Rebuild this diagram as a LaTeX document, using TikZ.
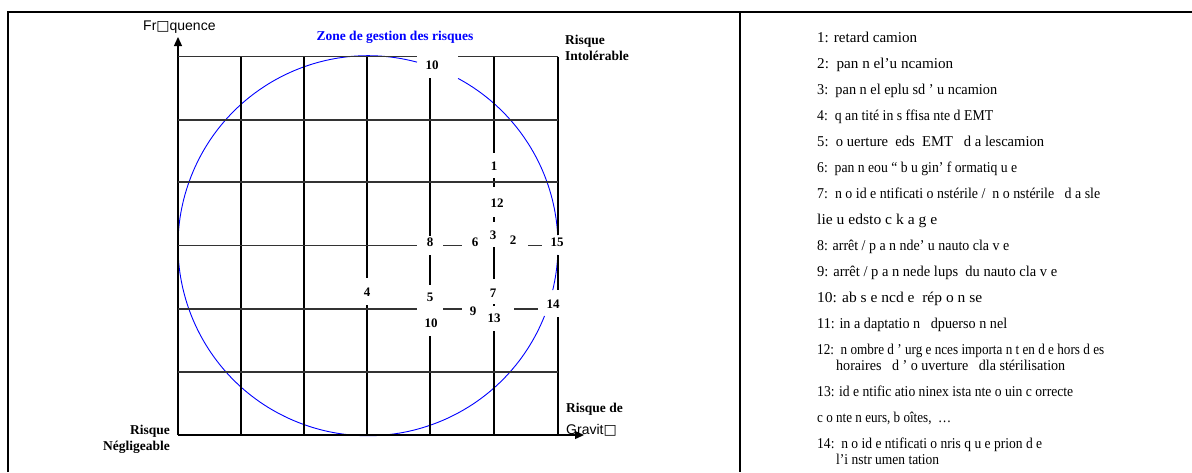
\documentclass[tikz,border=0pt]{standalone}
\usepackage{fontspec}
\usepackage{graphicx}
\setmainfont{Liberation Serif}
\newfontfamily\arialf{Liberation Sans}
\newfontfamily\djv{DejaVu Sans}
\usetikzlibrary{arrows.meta}
\newcommand\lw[2]{\resizebox{#1pt}{\height}{#2}}
\begin{document}
\begin{tikzpicture}[x=1pt,y=-1pt,
  frame/.style={line width=1.8pt},
  colline/.style={line width=1.3pt, black},
  rowline/.style={line width=1.3pt, black!80},
  zoneline/.style={blue, line width=0.9pt},
  axisline/.style={line width=1.3pt, -{Triangle[length=9pt,width=8pt]}},
  num/.style={font=\fontsize{13}{15}\selectfont\bfseries, inner sep=0pt},
  lbl/.style={font=\fontsize{13.5}{16}\selectfont\bfseries, inner sep=0pt},
  sanslbl/.style={font=\fontsize{14}{16}\selectfont\arialf, inner sep=0pt},
  item/.style={anchor=base west, inner sep=0pt, font=\fontsize{15}{18}\selectfont}]
\useasboundingbox (0,0) rectangle (1192,472);
% frame
\draw[frame] (8,472) -- (8,12) -- (1192,12);
\draw[frame] (740,12) -- (740,472);
% blue circle (with gaps at labels)
\draw[zoneline] (368,245.7) ++(-61.7:190) arc[start angle=-61.7, end angle=-3.2, radius=190];
\draw[zoneline] (368,245.7) ++(2.8:190) arc[start angle=2.8, end angle=13.5, radius=190];
\draw[zoneline] (368,245.7) ++(21.7:190) arc[start angle=21.7, end angle=284.94, radius=190];
% axes
\draw[axisline] (178,435) -- (178,37);
\draw[axisline] (178,435) -- (584,435);
% columns
\draw[colline] (241,56.7) -- (241,435);
\draw[colline] (304,56.7) -- (304,435);
\draw[colline] (367,56.7) -- (367,278) (367,305) -- (367,435);
\draw[colline] (430,78) -- (430,236) (430,255) -- (430,285) (430,336) -- (430,435);
\draw[colline] (494,56.7) -- (494,153) (494,178) -- (494,187) (494,217) -- (494,222)
  (494,247) -- (494,279) (494,304) -- (494,306) (494,331) -- (494,435);
\draw[colline] (558,56.7) -- (558,235) (558,255) -- (558,290) (558,317) -- (558,435);
% rows
\draw[rowline] (178,56.7) -- (417,56.7) (458,56.7) -- (558,56.7);
\draw[rowline] (178,120) -- (558,120);
\draw[rowline] (178,182) -- (558,182);
\draw[rowline] (178,245.7) -- (417,245.7) (443,245.7) -- (462,245.7) (528,245.7) -- (542,245.7);
\draw[rowline] (178,309) -- (417,309) (443,309) -- (462,309) (514,309) -- (538,309);
\draw[rowline] (178,372) -- (558,372);
% numbers
\node[num] (n10a) at (432,65) {10};
\node[num] (n1) at (494,166) {1};
\node[num] (n12) at (497,203) {12};
\node[num] (n3) at (493,235) {3};
\node[num] (n2) at (513,240) {2};
\node[num] (n15) at (557,242) {15};
\node[num] (n8) at (430,242) {8};
\node[num] (n6) at (475,242) {6};
\node[num] (n4) at (367,292) {4};
\node[num] (n5) at (430,297) {5};
\node[num] (n10b) at (431,323) {10};
\node[num] (n9) at (473,311) {9};
\node[num] (n7) at (493,293) {7};
\node[num] (n13) at (494,318) {13};
\node[num] (n14) at (553,304) {14};
% axis labels
\node[sanslbl, anchor=base west] (freq) at (143,30) {Fr{\djv □}quence};
\node[lbl, text=blue] (zone) at (395,37) {Zone de gestion des risques};
\node[lbl, anchor=base west, align=left] (intol) at (565,60) {Risque\\Intolérable};
\node[lbl, anchor=base west] (grav1) at (566,412) {Risque de};
\node[sanslbl, anchor=base west] (grav2) at (566,434) {Gravit{\djv □}};
\node[lbl, anchor=base east, align=right] (negl) at (170,450) {Risque\\Négligeable};
% list
\node[item] (i1) at (817,42) {\lw{100}{1: retard camion}};
\node[item] (i2) at (817,68) {\lw{136}{2:\ \ pan n el’u ncamion}};
\node[item] (i3) at (817,94) {\lw{180}{3:\ \ pan n el eplu sd ’ u ncamion}};
\node[item] (i4) at (817,120) {\lw{176}{4:\ \ q an tité in s ffisa nte d EMT}};
\node[item] (i5) at (817,146) {\lw{227}{5:\ \ o uerture\ \ eds\ \ EMT\ \ \ d a lescamion}};
\node[item] (i6) at (817,172) {\lw{200}{6:\ \ pan n eou “ b u gin’ f ormatiq u e}};
\node[item] (i7) at (817,198) {\lw{283}{7:\ \ n o id e ntificati o nstérile /\ \ n o nstérile\ \ \ d a sle}};
\node[item] (i7b) at (817,224) {\lw{120}{lie u edsto c k a g e}};
\node[item] (i8) at (817,250) {\lw{192}{8: arrêt / p a n nde’ u nauto cla v e}};
\node[item] (i9) at (817,276) {\lw{240}{9: arrêt / p a n nede lups\ \ du nauto cla v e}};
\node[item] (i10) at (817,302) {\lw{165}{10: ab s e ncd e\ \ rép o n se}};
\node[item] (i11) at (817,328) {\lw{190}{11: in a daptatio n\ \ \ dpuerso n nel}};
\node[item] (i12) at (817,354) {\lw{287}{12:\ \ n ombre d ’ urg e nces importa n t en d e hors d es}};
\node[item] (i12b) at (836,370) {\lw{229}{horaires\ \ \ d ’ o uverture\ \ \ dla stérilisation}};
\node[item] (i13) at (817,396) {\lw{256}{13: id e ntific atio ninex ista nte o uin c orrecte}};
\node[item] (i13b) at (817,422) {\lw{134}{c o nte n eurs, b oîtes,\ \ …}};
\node[item] (i14) at (817,448) {\lw{225}{14:\ \ n o id e ntificati o nris q u e prion d e}};
\node[item] (i14b) at (836,464) {\lw{103}{l’i nstr umen tation}};
\end{tikzpicture}
\end{document}
